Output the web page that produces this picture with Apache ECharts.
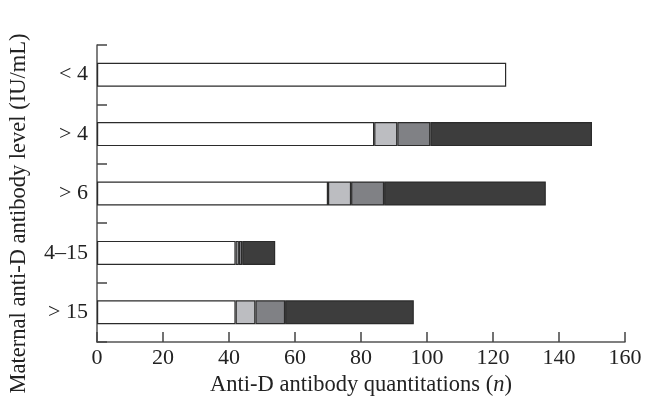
<!DOCTYPE html>
<html>
<head>
<meta charset="utf-8">
<script src="https://cdn.jsdelivr.net/npm/echarts@6/dist/echarts.min.js"></script>
<style>html,body{margin:0;padding:0;background:#fff}#c{width:646px;height:403px}</style>
</head>
<body>
<div id="c"></div>
<script>
var categories = ['< 4', '> 4', '> 6', '4\u201315', '> 15'];
var whiteVals = [124, 84, 70, 42, 42];
var lightVals = [null, 7, 7, 1, 6];
var midVals = [null, 10, 10, 1, 9];
var darkVals = [null, 49, 49, 10, 39];
var xTicks = { min: 0, max: 160, interval: 20 };

var font = '"Liberation Serif", "DejaVu Serif", serif';
var chart = echarts.init(document.getElementById('c'), null, { renderer: 'canvas' });
function mk(name, data, color) {
  return {
    name: name, type: 'bar', stack: 'a', data: data, barWidth: 24,
    itemStyle: { color: color, borderColor: '#2b2b2b', borderWidth: 1.2 },
    emphasis: { disabled: true }, animation: false
  };
}
chart.setOption({
  animation: false,
  grid: { left: 97, right: 21, top: 45, bottom: 61 },
  xAxis: {
    type: 'value', min: xTicks.min, max: xTicks.max, interval: xTicks.interval,
    axisLine: { show: true, lineStyle: { color: '#555', width: 1.5 } },
    axisTick: { show: true, inside: true, length: 10, lineStyle: { color: '#444', width: 1.5 } },
    splitLine: { show: false },
    axisLabel: { color: '#222', fontFamily: font, fontSize: 22, margin: 5 },
    name: '{a|Anti-D antibody quantitations (}{b|n}{a|)}',
    nameLocation: 'middle', nameGap: 31,
    nameTextStyle: { rich: {
      a: { fontFamily: font, fontSize: 22.5, color: '#222' },
      b: { fontFamily: font, fontSize: 22.5, color: '#222', fontStyle: 'italic' } } }
  },
  yAxis: {
    type: 'category', data: categories, inverse: true, boundaryGap: true,
    axisLine: { show: true, lineStyle: { color: '#555', width: 1.5 } },
    axisTick: { show: true, inside: true, length: 10, lineStyle: { color: '#444', width: 1.5 } },
    axisLabel: { color: '#222', fontFamily: font, fontSize: 22, margin: 9 },
    name: 'Maternal anti-D antibody level (IU/mL)',
    nameLocation: 'middle', nameGap: 66,
    nameTextStyle: { fontFamily: font, fontSize: 22.5, color: '#222', padding: [0, 40, 0, 0] }
  },
  series: [
    mk('white', whiteVals, '#ffffff'),
    mk('light', lightVals, '#bcbdc1'),
    mk('mid', midVals, '#808185'),
    mk('dark', darkVals, '#3d3d3d')
  ]
});
</script>
</body>
</html>
